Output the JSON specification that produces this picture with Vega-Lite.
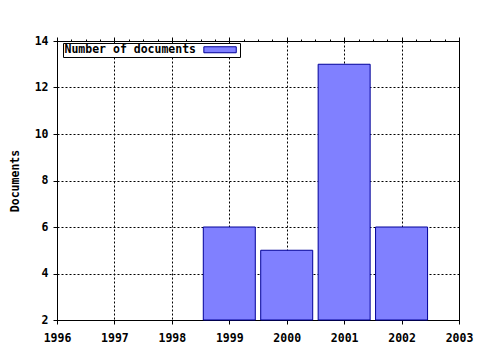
{
  "$schema": "https://vega.github.io/schema/vega-lite/v6.json",
  "autosize": "none",
  "width": 402,
  "height": 279,
  "padding": {"left": 57, "top": 41, "right": 21, "bottom": 30},
  "background": "white",
  "config": {
    "view": {"stroke": "black", "strokeWidth": 1},
    "font": "DejaVu Sans Mono",
    "axis": {
      "domainColor": "black",
      "tickColor": "black",
      "labelColor": "black",
      "labelFont": "DejaVu Sans Mono",
      "labelFontSize": 11.5,
      "labelFontWeight": "bold",
      "titleFont": "DejaVu Sans Mono",
      "titleFontSize": 11.5,
      "titleFontWeight": "bold",
      "titleColor": "black",
      "gridColor": "black",
      "gridDash": [2, 2],
      "gridOpacity": 1
    }
  },
  "data": {
    "values": [
      {"year": 1999, "count": 6},
      {"year": 2000, "count": 5},
      {"year": 2001, "count": 13},
      {"year": 2002, "count": 6}
    ]
  },
  "layer": [
    {
      "mark": {"type": "bar", "width": 52, "stroke": "#000099", "strokeWidth": 1, "opacity": 1},
      "encoding": {
        "x": {
          "field": "year",
          "type": "quantitative",
          "scale": {"domain": [1996, 2003], "nice": false, "zero": false, "padding": 0},
          "axis": {
            "orient": "bottom",
            "title": null,
            "format": "d",
            "values": [1996, 1996.25, 1996.5, 1996.75, 1997, 1997.25, 1997.5, 1997.75, 1998, 1998.25, 1998.5, 1998.75, 1999, 1999.25, 1999.5, 1999.75, 2000, 2000.25, 2000.5, 2000.75, 2001, 2001.25, 2001.5, 2001.75, 2002, 2002.25, 2002.5, 2002.75, 2003],
            "labelExpr": "datum.value % 1 === 0 ? datum.label : ''",
            "tickSize": {"condition": {"test": "datum.value % 1 === 0", "value": 4}, "value": 2},
            "gridOpacity": {"condition": {"test": "datum.value % 1 === 0", "value": 1}, "value": 0},
            "labelPadding": 8,
            "labelFlush": false,
            "labelOverlap": false,
            "grid": true
          }
        },
        "y": {
          "field": "count",
          "type": "quantitative",
          "scale": {"domain": [2, 14], "nice": false, "zero": false, "padding": 0},
          "axis": {
            "title": "Documents",
            "values": [2, 4, 6, 8, 10, 12, 14],
            "tickSize": 4,
            "labelPadding": 5,
            "titlePadding": 14,
            "grid": true
          }
        },
        "y2": {"datum": 2},
        "color": {
          "datum": "Number of documents",
          "scale": {"range": ["#8080ff"]},
          "legend": {
            "orient": "none",
            "legendX": 6,
            "legendY": 2,
            "title": null,
            "fillColor": "white",
            "strokeColor": "black",
            "padding": 1,
            "symbolType": "M44.7,-1H55.5V1H44.7Z",
            "symbolSize": 36,
            "symbolStrokeColor": "#000099",
            "symbolStrokeWidth": 1,
            "symbolOpacity": 1,
            "labelFont": "DejaVu Sans Mono",
            "labelFontSize": 11.5,
            "labelFontWeight": "bold",
            "labelColor": "black",
            "labelOffset": -11
          }
        }
      }
    },
    {
      "mark": {"type": "bar", "width": 52, "opacity": 0},
      "encoding": {
        "x": {
          "field": "year",
          "type": "quantitative",
          "axis": {
            "orient": "top",
            "title": null,
            "labels": false,
            "grid": false,
            "values": [1996, 1996.25, 1996.5, 1996.75, 1997, 1997.25, 1997.5, 1997.75, 1998, 1998.25, 1998.5, 1998.75, 1999, 1999.25, 1999.5, 1999.75, 2000, 2000.25, 2000.5, 2000.75, 2001, 2001.25, 2001.5, 2001.75, 2002, 2002.25, 2002.5, 2002.75, 2003],
            "tickSize": {"condition": {"test": "datum.value % 1 === 0", "value": 4}, "value": 2}
          }
        },
        "y": {"field": "count", "type": "quantitative"},
        "y2": {"datum": 2}
      }
    }
  ],
  "resolve": {"axis": {"x": "independent"}}
}
